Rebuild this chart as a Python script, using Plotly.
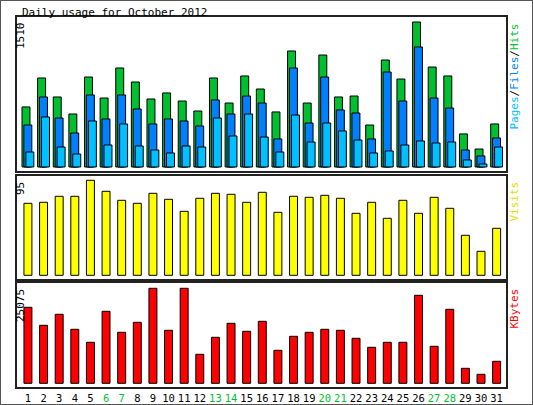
import plotly.graph_objects as go

days = list(range(1, 32))
hits = [625, 927, 729, 552, 937, 718, 1031, 885, 708, 771, 687, 583, 927, 666, 948, 812,
        573, 1208, 666, 1166, 729, 739, 437, 1114, 916, 1510, 1041, 948, 344, 187, 448]
files = [437, 729, 510, 354, 750, 500, 750, 604, 448, 500, 479, 427, 698, 552, 739, 666,
         292, 1031, 458, 937, 594, 562, 292, 989, 687, 1250, 718, 614, 177, 115, 302]
pages = [156, 521, 208, 135, 479, 229, 448, 219, 177, 146, 219, 208, 510, 323, 552, 312,
         156, 541, 260, 458, 375, 281, 146, 167, 229, 271, 250, 260, 73, 31, 208]
visits = [72, 73, 79, 79, 95, 84, 75, 72, 82, 76, 64, 77, 82, 81, 73, 83,
          63, 79, 78, 80, 77, 62, 73, 57, 75, 62, 78, 67, 40, 24, 47]
kbytes = [20060, 15309, 18212, 14253, 10822, 19004, 13461, 16100, 25075, 13989, 25075, 7654,
          12141, 15836, 13725, 16364, 8710, 12405, 13461, 14253, 13989, 11877, 9502, 10822,
          10822, 23227, 9766, 19532, 3959, 2375, 5807]
weekends = [6, 7, 13, 14, 20, 21, 27, 28]
tick_text = [f"<span style='color:#00c030'>{d}</span>" if d in weekends else str(d) for d in days]

FONT = "DejaVu Sans Mono"
line = dict(color="black", width=1)
fig = go.Figure()
fig.add_bar(x=days, y=hits, width=0.51, offset=-0.38, marker=dict(color="#00c030", line=line), xaxis="x", yaxis="y")
fig.add_bar(x=days, y=files, width=0.51, offset=-0.26, marker=dict(color="#0080ff", line=line), xaxis="x", yaxis="y")
fig.add_bar(x=days, y=pages, width=0.51, offset=-0.13, marker=dict(color="#00c0ff", line=line), xaxis="x", yaxis="y")
fig.add_bar(x=days, y=visits, width=0.51, marker=dict(color="#ffff00", line=line), xaxis="x2", yaxis="y2")
fig.add_bar(x=days, y=kbytes, width=0.51, marker=dict(color="#ff0000", line=line), xaxis="x3", yaxis="y3")

xr = [0.3, 31.6]
xd = [17/533, 506/533]
ax = dict(range=xr, domain=xd, showgrid=False, zeroline=False, showline=True, mirror=True,
          linecolor="#222", linewidth=2, showticklabels=False, ticks="")
yx = dict(showgrid=False, zeroline=False, showline=True, mirror=True, linecolor="#222",
          linewidth=2, showticklabels=False, ticks="")
fig.update_layout(
    width=533, height=405, margin=dict(l=0, r=0, t=0, b=0),
    paper_bgcolor="white", plot_bgcolor="white", showlegend=False, barmode="overlay",
    font=dict(family=FONT, size=11, color="black"),
    xaxis=dict(ax, anchor="y"),
    xaxis2=dict(ax, anchor="y2"),
    xaxis3=dict(ax, anchor="y3", showticklabels=True, tickvals=days, ticktext=tick_text,
                tickfont=dict(family=FONT, size=10.5), ticklen=0),
    yaxis=dict(yx, domain=[1-171/405, 1-17/405], range=[-42, 1562]),
    yaxis2=dict(yx, domain=[1-279/405, 1-176/405], range=[-3.7, 99.3]),
    yaxis3=dict(yx, domain=[1-387/405, 1-283/405], range=[-977, 26474]),
    shapes=[dict(type="rect", xref="paper", yref="paper", x0=0, y0=0, x1=1, y1=1,
                 line=dict(color="#555", width=2))],
)
ann = [
    dict(text="Daily usage for October 2012", x=20/533, y=1-4/405, xanchor="left", yanchor="top"),
    dict(text="1510", x=12/533, y=1-20/405, textangle=-90, yanchor="top"),
    dict(text="95", x=12/533, y=1-180/405, textangle=-90, yanchor="top"),
    dict(text="25075", x=12/533, y=1-287/405, textangle=-90, yanchor="top"),
    dict(text="<span style='color:#00c0ff'>Pages</span>/<span style='color:#0080ff'>Files</span>/<span style='color:#00c030'>Hits</span>",
         x=522/533, y=1-22/405, textangle=-90, yanchor="top"),
    dict(text="<span style='color:#e0e000'>Visits</span>", x=522/533, y=1-180/405, textangle=-90, yanchor="top"),
    dict(text="<span style='color:#ff0000'>KBytes</span>", x=522/533, y=1-287/405, textangle=-90, yanchor="top"),
]
for a in ann:
    a.update(xref="paper", yref="paper", showarrow=False, font=dict(family=FONT, size=11, color="black"))
fig.update_layout(annotations=ann)
fig.write_html("out.html", config={"displayModeBar": False},
               post_script="document.body.style.margin='0';document.body.style.overflow='hidden';")
